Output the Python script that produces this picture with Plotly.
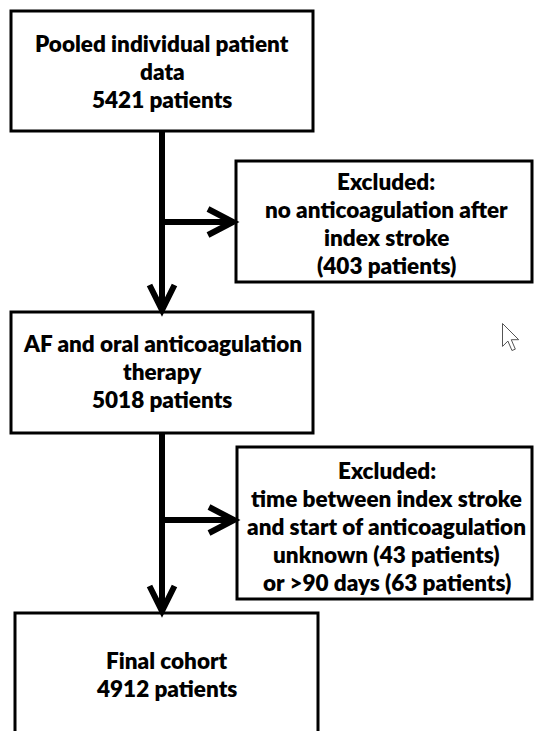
import plotly.graph_objects as go

W, H = 534, 731

# ---- content (flowchart text) ----
main_titles = [["Pooled individual patient", "data"], ["AF and oral anticoagulation", "therapy"], ["Final cohort"]]
main_counts = [5421, 5018, 4912]
excl_reasons = [["no anticoagulation after", "index stroke", "(403 patients)"],
                ["time between index stroke", "and start of anticoagulation",
                 "unknown (43 patients)", "or >90 days (63 patients)"]]

# ---- layout geometry (pixels) ----
main_boxes = [(11, 11, 313, 131), (11, 312, 313, 433), (15, 613, 318, 745)]
main_text_y = [71.5, 371.5, 674]
excl_boxes = [(236, 161, 532, 282), (237, 447, 532, 599)]
excl_text_y = [223.5, 526.5]
spine_x = 162
branch_y = [222, 520]
LINE_GAP = 28

FONT = "Lato"
FS = 22.5
LW = 6

fig = go.Figure()
shapes = []
annotations = []


def add_text(cx, cy, lines):
    n = len(lines)
    for k, ln in enumerate(lines):
        annotations.append(dict(x=cx, y=cy + (k - (n - 1) / 2) * LINE_GAP, text=ln,
                                showarrow=False, xanchor="center", yanchor="middle",
                                font=dict(family=FONT, size=FS, color="black", weight=800)))


for (x0, y0, x1, y1), t, c, ty in zip(main_boxes, main_titles, main_counts, main_text_y):
    shapes.append(dict(type="rect", x0=x0, y0=y0, x1=x1, y1=y1,
                       line=dict(color="black", width=3), fillcolor="white", layer="above"))
    add_text((x0 + x1) / 2, ty, t + [f"{c} patients"])

for (x0, y0, x1, y1), r, ty in zip(excl_boxes, excl_reasons, excl_text_y):
    shapes.append(dict(type="rect", x0=x0, y0=y0, x1=x1, y1=y1,
                       line=dict(color="black", width=3), fillcolor="white", layer="above"))
    add_text((x0 + x1) / 2 + 2, ty, ["Excluded:"] + r)


def chevron_down(x, y):
    return f"M{x-12.5},{y-25} L{x},{y} L{x+12.5},{y-25}"


def chevron_right(x, y):
    return f"M{x-25},{y-13} L{x},{y} L{x-25},{y+13}"


for i in range(2):
    top = main_boxes[i][3]
    tip = main_boxes[i + 1][1] - 2
    shapes.append(dict(type="line", x0=spine_x, y0=top, x1=spine_x, y1=tip - 2,
                       line=dict(color="black", width=LW)))
    shapes.append(dict(type="path", path=chevron_down(spine_x, tip),
                       line=dict(color="black", width=LW)))
    bx = excl_boxes[i][0] - 3
    by = branch_y[i]
    shapes.append(dict(type="line", x0=spine_x, y0=by, x1=bx - 2, y1=by,
                       line=dict(color="black", width=LW)))
    shapes.append(dict(type="path", path=chevron_right(bx, by),
                       line=dict(color="black", width=LW)))

# mouse cursor (screenshot artefact)
cx, cy, s = 502.5, 323.5, 1.35
pts = [(0, 0), (0, 17), (4, 13), (7, 20), (9.5, 19), (6.5, 12), (12, 12)]
cur = "M" + " L".join(f"{cx + px * s},{cy + py * s}" for px, py in pts) + " Z"
shapes.append(dict(type="path", path=cur, line=dict(color="#555555", width=1), fillcolor="white"))

fig.update_layout(
    width=W, height=H, margin=dict(l=0, r=0, t=0, b=0),
    paper_bgcolor="white", plot_bgcolor="white",
    xaxis=dict(range=[0, W], visible=False, fixedrange=True),
    yaxis=dict(range=[H, 0], visible=False, fixedrange=True),
    shapes=shapes, annotations=annotations, showlegend=False,
)
fig.write_html("out.html", config={"displayModeBar": False},
               post_script="document.body.style.margin='0';document.body.style.overflow='hidden';")
